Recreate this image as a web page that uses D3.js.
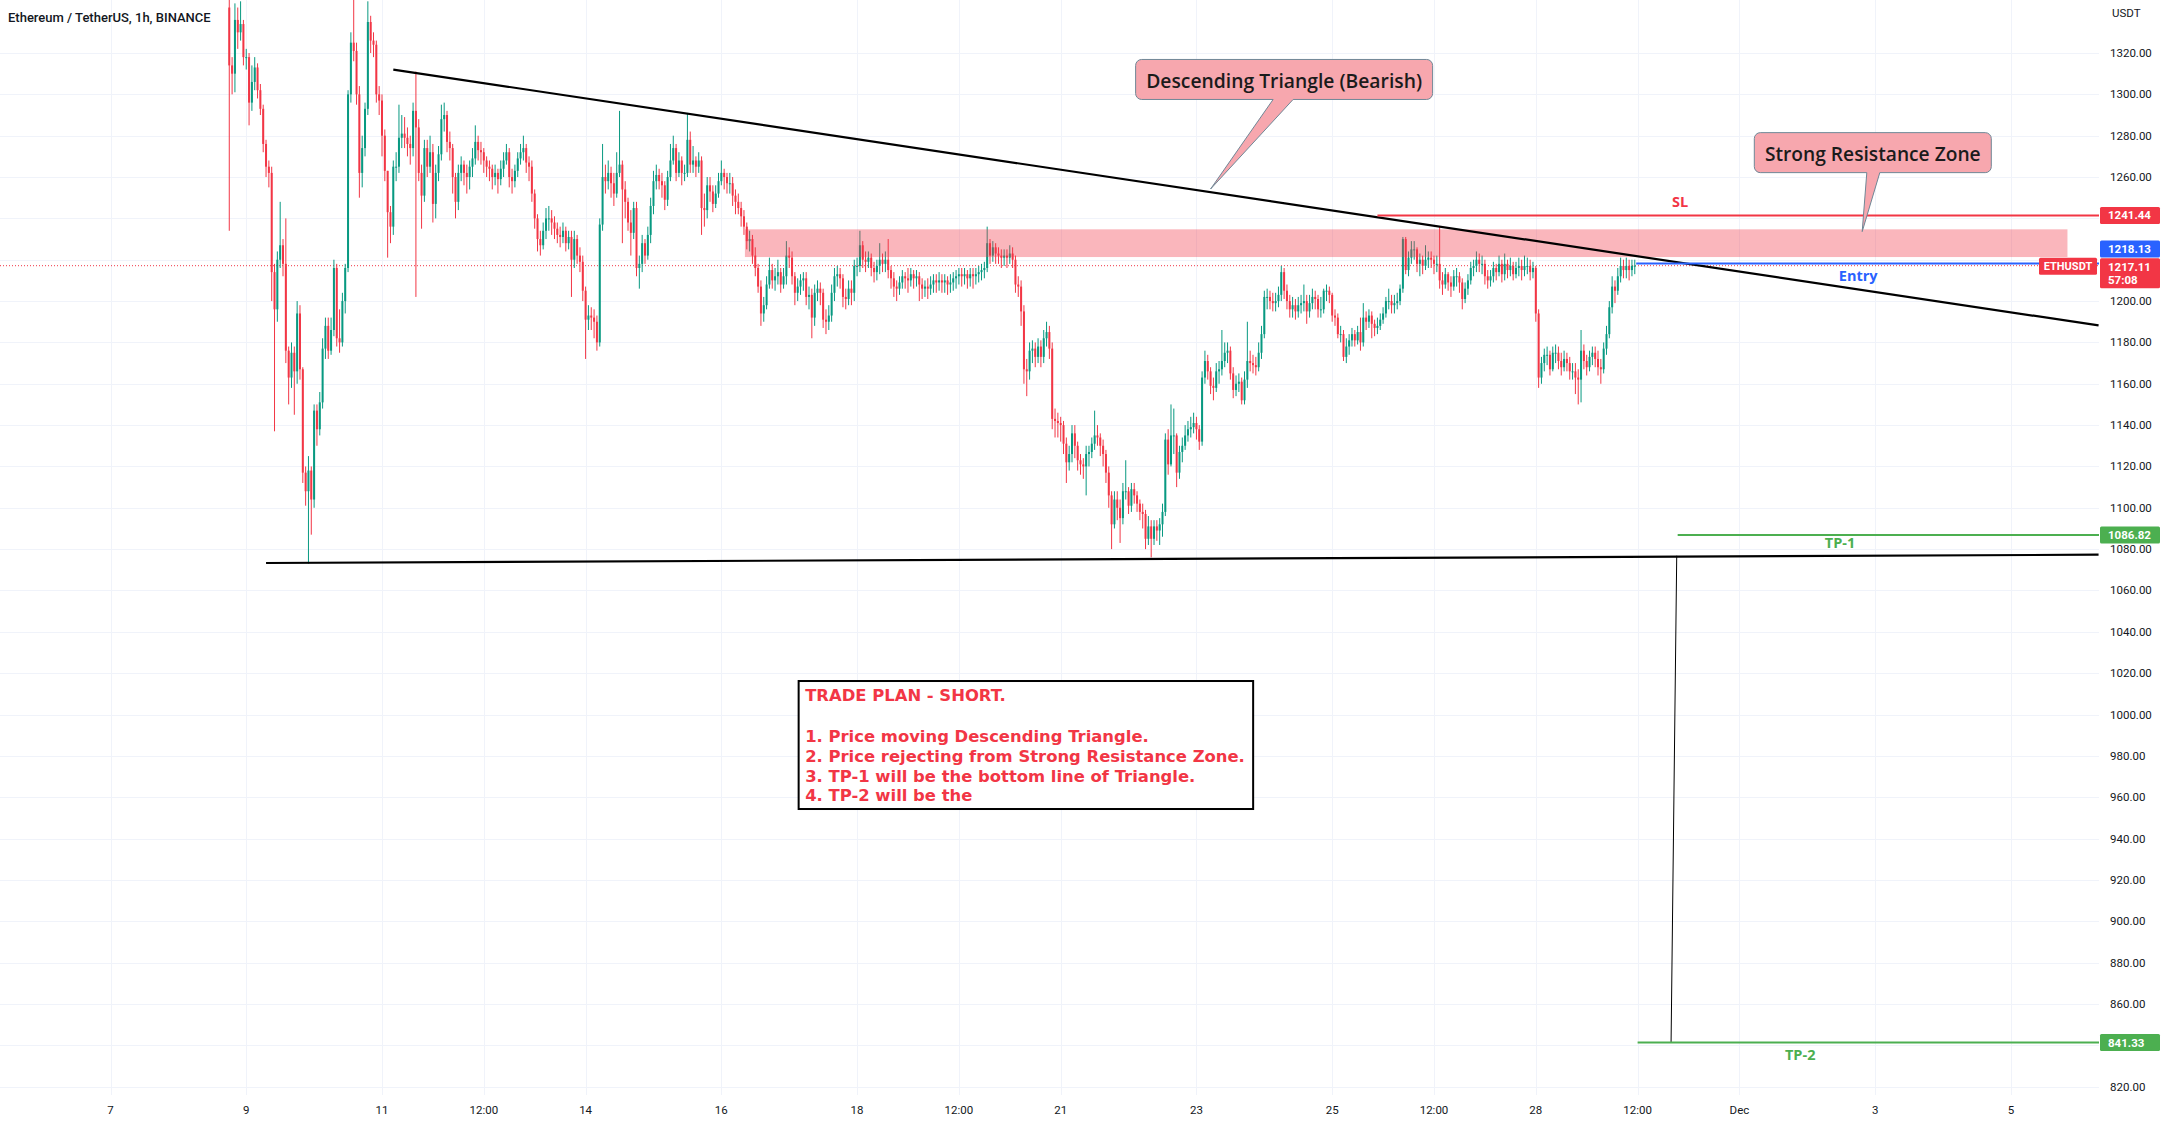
<!DOCTYPE html>
<html><head><meta charset="utf-8">
<script src="https://cdn.jsdelivr.net/npm/d3@7"></script>
<style>body{margin:0;background:#fff}svg{display:block}</style>
</head><body><svg id="c" width="2165" height="1125"></svg>
<script>
// ---------- DATA ----------
const title = "Ethereum / TetherUS, 1h, BINANCE";
const startTime = "2022-11-08 18:00"; // first hourly candle
const firstOpen = 1342;
const closes = [
1314,1310,1336,1330,1334,1318,1318,1296,1306,1313,
1302,1293,1276,1265,1262,1214,1196,1220,1227,1218,
1176,1163,1175,1166,1194,1167,1117,1108,1118,1104,
1147,1138,1151,1177,1188,1176,1186,1216,1182,1180,
1200,1216,1300,1325,1321,1300,1262,1274,1293,1335,
1326,1324,1300,1297,1280,1263,1243,1236,1265,1265,
1279,1281,1279,1276,1274,1292,1284,1262,1251,1274,
1265,1272,1247,1262,1271,1288,1290,1277,1274,1260,
1248,1262,1266,1262,1260,1265,1269,1277,1273,1272,
1268,1265,1264,1260,1262,1259,1264,1268,1272,1260,
1258,1263,1269,1272,1274,1267,1265,1252,1240,1230,
1227,1234,1240,1240,1238,1235,1232,1231,1234,1228,
1231,1220,1230,1222,1219,1205,1191,1193,1192,1190,
1180,1237,1260,1258,1262,1257,1252,1262,1266,1254,
1248,1238,1233,1245,1216,1218,1228,1222,1232,1246,
1258,1261,1258,1256,1249,1260,1268,1274,1262,1268,
1262,1262,1278,1266,1268,1265,1268,1245,1244,1256,
1253,1247,1252,1258,1262,1260,1257,1257,1251,1248,
1245,1241,1236,1229,1230,1222,1216,1207,1194,1198,
1208,1215,1210,1212,1214,1208,1212,1222,1221,1212,
1204,1207,1210,1211,1202,1203,1192,1204,1206,1204,
1191,1190,1193,1204,1212,1213,1211,1202,1201,1206,
1204,1217,1217,1227,1220,1219,1221,1216,1214,1217,
1220,1218,1220,1215,1211,1207,1206,1209,1212,1211,
1210,1213,1211,1212,1208,1206,1207,1206,1208,1210,
1209,1210,1209,1210,1208,1209,1211,1212,1213,1212,
1213,1211,1213,1212,1213,1214,1215,1216,1228,1222,
1226,1223,1222,1221,1222,1221,1223,1220,1208,1207,
1195,1167,1166,1176,1177,1173,1178,1173,1182,1185,
1177,1143,1142,1141,1140,1131,1122,1126,1136,1130,
1123,1121,1120,1126,1127,1131,1135,1134,1130,1126,
1117,1106,1092,1104,1100,1095,1108,1108,1101,1109,
1106,1102,1098,1097,1085,1091,1085,1091,1089,1092,
1098,1133,1121,1135,1135,1117,1127,1130,1135,1138,
1139,1141,1138,1132,1163,1171,1166,1159,1158,1166,
1167,1171,1175,1176,1165,1157,1160,1161,1152,1162,
1171,1170,1169,1168,1175,1184,1202,1202,1200,1199,
1200,1203,1214,1205,1200,1196,1198,1195,1198,1199,
1200,1195,1199,1202,1201,1196,1196,1205,1205,1203,
1193,1192,1184,1184,1173,1178,1181,1184,1181,1185,
1180,1192,1190,1193,1189,1187,1188,1191,1194,1200,
1200,1198,1199,1200,1206,1230,1215,1221,1225,1225,
1218,1220,1217,1220,1221,1220,1218,1218,1210,1208,
1213,1209,1207,1212,1212,1209,1201,1206,1210,1216,
1217,1220,1218,1218,1212,1210,1212,1216,1214,1218,
1213,1218,1215,1217,1213,1216,1217,1215,1217,1217,
1214,1216,1194,1163,1170,1174,1174,1167,1175,1175,
1171,1168,1172,1170,1166,1166,1163,1162,1176,1171,
1168,1173,1175,1172,1168,1167,1177,1184,1197,1207,
1205,1212,1217,1215,1217,1215,1217,1217.11];
const highs = [
1350,1318,1344,1342,1345,1336,1322,1320,1314,1318,
1315,1305,1295,1278,1268,1265,1218,1224,1248,1230,
1240,1178,1180,1178,1200,1198,1168,1120,1125,1120,
1150,1150,1156,1182,1192,1192,1192,1220,1218,1196,
1204,1218,1302,1330,1346,1325,1304,1280,1296,1345,
1338,1330,1326,1304,1300,1283,1262,1246,1268,1272,
1295,1290,1289,1284,1280,1296,1311,1288,1266,1278,
1278,1280,1276,1266,1275,1295,1296,1292,1282,1276,
1262,1266,1270,1268,1266,1268,1274,1285,1280,1277,
1274,1270,1268,1266,1266,1264,1268,1272,1276,1274,
1264,1266,1272,1276,1280,1276,1270,1268,1254,1242,
1234,1238,1245,1246,1244,1241,1238,1236,1238,1236,
1234,1234,1234,1232,1226,1222,1207,1198,1197,1196,
1193,1240,1276,1266,1268,1265,1262,1272,1292,1268,
1258,1250,1244,1248,1248,1222,1232,1230,1236,1250,
1263,1266,1264,1262,1258,1263,1276,1280,1276,1272,
1270,1266,1291,1282,1275,1270,1272,1270,1252,1260,
1260,1256,1256,1262,1268,1264,1262,1262,1260,1254,
1252,1248,1244,1238,1234,1232,1226,1218,1210,1202,
1212,1221,1218,1216,1220,1216,1216,1229,1226,1224,
1214,1211,1213,1214,1214,1207,1206,1208,1210,1209,
1206,1196,1198,1208,1216,1217,1216,1213,1206,1210,
1210,1220,1221,1234,1229,1224,1224,1223,1219,1220,
1228,1223,1224,1230,1217,1214,1210,1212,1215,1214,
1216,1216,1215,1215,1214,1211,1210,1211,1212,1213,
1213,1214,1213,1213,1212,1213,1214,1215,1216,1216,
1216,1215,1216,1216,1216,1217,1218,1219,1236,1230,
1229,1228,1226,1225,1225,1225,1227,1226,1222,1212,
1210,1198,1172,1180,1181,1180,1182,1181,1186,1190,
1188,1180,1148,1146,1144,1142,1134,1130,1140,1140,
1132,1126,1124,1130,1130,1134,1147,1140,1136,1133,
1128,1120,1108,1108,1108,1104,1112,1123,1110,1112,
1112,1108,1104,1102,1099,1096,1094,1094,1094,1095,
1102,1136,1138,1150,1148,1136,1130,1134,1140,1142,
1144,1146,1144,1140,1166,1176,1174,1168,1163,1170,
1171,1186,1180,1180,1178,1168,1164,1165,1163,1166,
1190,1176,1174,1173,1180,1188,1205,1206,1205,1204,
1204,1207,1217,1216,1208,1203,1202,1201,1202,1203,
1208,1203,1203,1206,1205,1203,1202,1206,1208,1207,
1204,1196,1194,1188,1186,1182,1184,1187,1186,1188,
1192,1199,1195,1196,1195,1191,1192,1194,1197,1202,
1206,1203,1203,1204,1208,1231,1231,1224,1229,1229,
1226,1223,1222,1227,1224,1224,1222,1222,1236,1214,
1216,1214,1212,1215,1216,1214,1211,1209,1213,1219,
1220,1224,1223,1222,1220,1215,1215,1219,1218,1222,
1220,1223,1220,1221,1219,1219,1221,1220,1222,1221,
1220,1219,1217,1196,1173,1177,1178,1176,1178,1179,
1178,1175,1176,1175,1173,1170,1170,1167,1186,1179,
1174,1176,1178,1178,1176,1172,1180,1188,1200,1212,
1210,1216,1221,1220,1221,1220,1220,1220];
const lows = [
1234,1300,1301,1322,1326,1314,1312,1285,1292,1302,
1298,1290,1272,1260,1255,1200,1137,1190,1216,1212,
1170,1150,1158,1145,1160,1162,1112,1101,1073,1087,
1100,1130,1135,1148,1172,1172,1174,1183,1178,1175,
1178,1194,1214,1296,1316,1295,1250,1255,1270,1290,
1320,1318,1296,1290,1270,1258,1221,1228,1232,1258,
1262,1274,1274,1270,1266,1270,1202,1258,1235,1248,
1260,1262,1238,1240,1258,1268,1282,1272,1268,1252,
1240,1244,1258,1256,1252,1254,1260,1266,1268,1266,
1262,1260,1258,1254,1256,1252,1256,1260,1266,1255,
1252,1255,1260,1266,1268,1262,1258,1248,1235,1224,
1222,1225,1230,1234,1232,1230,1228,1226,1228,1224,
1225,1202,1216,1218,1214,1200,1172,1186,1186,1182,
1176,1178,1234,1252,1254,1250,1246,1250,1260,1228,
1240,1234,1222,1230,1212,1206,1214,1218,1220,1228,
1242,1254,1254,1250,1244,1246,1258,1266,1258,1260,
1256,1258,1260,1262,1262,1260,1262,1232,1236,1240,
1248,1243,1245,1250,1256,1254,1252,1252,1246,1242,
1242,1236,1232,1225,1224,1218,1212,1204,1188,1190,
1196,1206,1206,1205,1208,1204,1206,1208,1216,1208,
1198,1200,1203,1205,1198,1196,1182,1188,1200,1198,
1187,1184,1186,1190,1200,1207,1206,1197,1196,1198,
1198,1200,1212,1214,1216,1214,1216,1212,1209,1210,
1213,1214,1214,1211,1206,1202,1200,1203,1206,1206,
1204,1207,1206,1207,1200,1201,1202,1201,1203,1204,
1204,1205,1204,1204,1203,1204,1205,1206,1208,1207,
1208,1206,1207,1206,1208,1209,1210,1211,1214,1218,
1219,1218,1218,1216,1217,1216,1218,1216,1204,1202,
1188,1160,1154,1162,1170,1168,1170,1168,1170,1178,
1172,1138,1134,1134,1132,1126,1112,1118,1122,1124,
1118,1116,1114,1106,1120,1124,1128,1130,1125,1120,
1112,1100,1080,1090,1094,1083,1092,1104,1097,1098,
1102,1098,1094,1090,1080,1082,1076,1082,1084,1082,
1086,1096,1116,1120,1126,1110,1114,1122,1128,1132,
1134,1136,1133,1128,1130,1160,1162,1155,1152,1156,
1160,1164,1168,1170,1162,1153,1154,1156,1150,1150,
1158,1166,1165,1164,1166,1172,1182,1196,1196,1195,
1195,1197,1200,1201,1196,1192,1192,1191,1192,1194,
1195,1189,1192,1196,1196,1192,1192,1194,1200,1199,
1190,1188,1182,1180,1171,1170,1174,1178,1178,1179,
1176,1178,1186,1187,1182,1183,1184,1186,1189,1192,
1196,1194,1194,1196,1198,1204,1213,1212,1218,1220,
1214,1212,1213,1215,1216,1216,1213,1214,1206,1203,
1206,1205,1202,1205,1207,1204,1196,1199,1203,1208,
1212,1214,1214,1213,1208,1206,1207,1209,1210,1212,
1209,1210,1211,1212,1210,1211,1212,1210,1212,1213,
1210,1211,1190,1158,1160,1166,1169,1164,1166,1170,
1167,1164,1166,1166,1162,1162,1155,1150,1151,1167,
1164,1166,1169,1168,1164,1160,1165,1174,1182,1194,
1199,1203,1209,1211,1211,1210,1212,1213];

const priceTicks = [1320,1300,1280,1260,1240,1220,1200,1180,1160,1140,1120,1100,1080,1060,1040,1020,1000,980,960,940,920,900,880,860,840,820];
const timeTicks = ["2022-11-07 00:00","2022-11-09 00:00","2022-11-11 00:00","2022-11-12 12:00","2022-11-14 00:00","2022-11-16 00:00","2022-11-18 00:00","2022-11-19 12:00","2022-11-21 00:00","2022-11-23 00:00","2022-11-25 00:00","2022-11-26 12:00","2022-11-28 00:00","2022-11-29 12:00","2022-12-01 00:00","2022-12-03 00:00","2022-12-05 00:00"];
const timeLabels = ["7","9","11","12:00","14","16","18","12:00","21","23","25","12:00","28","12:00","Dec","3","5"];

const triangleTop = [["2022-11-11 04:00",1312],["2022-12-06 07:00",1188.2]];
const triangleBottom = [["2022-11-09 07:00",1073.3],["2022-12-06 07:00",1077.3]];
const connector = [["2022-11-30 01:50",1076.8],["2022-11-29 23:50",841.33]];
const zoneTimes = ["2022-11-16 08:20","2022-12-05 20:00"];
const zonePrices = [1221.3,1234.7];
const levelNames = ["SL","Entry","TP-1","TP-2"];
const levelPrices = [1241.44,1218.13,1086.82,841.33];
const levelStarts = ["2022-11-25 16:00","2022-11-29 11:30","2022-11-30 02:10","2022-11-29 12:00"];
const levelLabelTimes = ["2022-11-30 03:00","2022-12-02 18:00","2022-12-02 11:35","2022-12-01 21:30"];
const levelLabelPrices = [1248.4,1212.6,1083,835.3];
const lastPrice = 1217.11;
const countdown = "57:08";
const symbol = "ETHUSDT";
const planLines = ["TRADE PLAN - SHORT.","","1. Price moving Descending Triangle.","2. Price rejecting from Strong Resistance Zone.","3. TP-1 will be the bottom line of Triangle.","4. TP-2 will be the"];
const planAnchor = ["2022-11-17 03:20",1016.2];
const calloutTexts = ["Descending Triangle (Bearish)","Strong Resistance Zone"];
const calloutCenters = [["2022-11-24 07:00",1307.2],["2022-12-02 23:10",1271.8]];
const calloutTips = [["2022-11-23 05:00",1254.2],["2022-12-02 19:25",1233.6]];

// ---------- SETUP ----------
const parse = d3.utcParse("%Y-%m-%d %H:%M");
const W = 2165, H = 1125, plotR = 2099, plotB = 1095;
const x = d3.scaleUtc().domain([parse("2022-11-07 00:00"), parse("2022-12-05 00:00")]).range([110.5, 2010.9]);
const y = d3.scaleLinear().domain([820, 1320]).range([1086.6, 53]);
const UP = "#089981", DN = "#f23645", GRID = "#f0f3fa", TXT = "#131722";
const FONT = "Roboto, 'Noto Sans', sans-serif";
const DFONT = "'Open Sans', 'Noto Sans', sans-serif";
const PFONT = "'DejaVu Sans', Verdana, sans-serif";

const svg = d3.select("#c");
svg.append("rect").attr("width", W).attr("height", H).attr("fill", "#fff");

const plot = svg.append("g");
plot.append("clipPath").attr("id", "clip").append("rect").attr("width", plotR).attr("height", plotB);
const g = plot.append("g").attr("clip-path", "url(#clip)");

// grid
g.selectAll(".hg").data(priceTicks).join("line")
  .attr("x1", 0).attr("x2", plotR).attr("y1", d => Math.round(y(d)) + 0.5).attr("y2", d => Math.round(y(d)) + 0.5)
  .attr("stroke", GRID).attr("stroke-width", 1);
g.selectAll(".vg").data(timeTicks).join("line")
  .attr("x1", d => Math.round(x(parse(d))) + 0.5).attr("x2", d => Math.round(x(parse(d))) + 0.5)
  .attr("y1", 0).attr("y2", plotB).attr("stroke", GRID).attr("stroke-width", 1);

// current price dotted line
g.append("line").attr("x1", 0).attr("x2", plotR).attr("y1", y(lastPrice)).attr("y2", y(lastPrice))
  .attr("stroke", DN).attr("stroke-width", 1).attr("stroke-dasharray", "1,2");

// candles
const t0 = parse(startTime).getTime();
const candles = closes.map((c, i) => {
  const o = i ? closes[i - 1] : firstOpen;
  return { t: new Date(t0 + i * 3600e3), o, c, h: Math.max(highs[i], o, c), l: Math.min(lows[i], o, c) };
});
const cg = g.append("g");
cg.selectAll("line").data(candles).join("line")
  .attr("x1", d => x(d.t)).attr("x2", d => x(d.t))
  .attr("y1", d => y(d.h)).attr("y2", d => y(d.l))
  .attr("stroke", d => d.c >= d.o ? UP : DN).attr("stroke-width", 1);
cg.selectAll("rect").data(candles).join("rect")
  .attr("x", d => x(d.t) - 1).attr("width", 2)
  .attr("y", d => y(Math.max(d.o, d.c)))
  .attr("height", d => Math.max(1, Math.abs(y(d.o) - y(d.c))))
  .attr("fill", d => d.c >= d.o ? UP : DN);

// resistance zone
g.append("rect")
  .attr("x", x(parse(zoneTimes[0]))).attr("width", x(parse(zoneTimes[1])) - x(parse(zoneTimes[0])))
  .attr("y", y(zonePrices[1])).attr("height", y(zonePrices[0]) - y(zonePrices[1]))
  .attr("fill", "rgba(242,54,69,0.36)");

// triangle lines
const line = d3.line().x(d => x(parse(d[0]))).y(d => y(d[1]));
g.append("path").attr("d", line(triangleTop)).attr("stroke", "#000").attr("stroke-width", 2.2).attr("fill", "none");
g.append("path").attr("d", line(triangleBottom)).attr("stroke", "#000").attr("stroke-width", 2.2).attr("fill", "none");
g.append("path").attr("d", line(connector)).attr("stroke", "#000").attr("stroke-width", 1).attr("fill", "none");

// level lines
const levelColors = ["#f23645", "#2962ff", "#4caf50", "#4caf50"];
levelPrices.forEach((p, i) => {
  g.append("line").attr("x1", x(parse(levelStarts[i]))).attr("x2", plotR)
    .attr("y1", y(p)).attr("y2", y(p)).attr("stroke", levelColors[i]).attr("stroke-width", 2);
  g.append("text").attr("x", x(parse(levelLabelTimes[i]))).attr("y", y(levelLabelPrices[i]))
    .attr("text-anchor", "middle").attr("dominant-baseline", "central")
    .attr("font-family", DFONT).attr("font-weight", 700).attr("font-size", 14.5)
    .attr("fill", levelColors[i]).text(levelNames[i]);
});

// callouts
function calloutPath(x0, y0, x1, y1, r, bx0, bx1, tx, ty) {
  return `M${x0 + r},${y0} H${x1 - r} A${r},${r} 0 0 1 ${x1},${y0 + r} V${y1 - r} A${r},${r} 0 0 1 ${x1 - r},${y1} H${bx1} L${tx},${ty} L${bx0},${y1} H${x0 + r} A${r},${r} 0 0 1 ${x0},${y1 - r} V${y0 + r} A${r},${r} 0 0 1 ${x0 + r},${y0} Z`;
}
const calloutW = [297, 237], calloutH = 40, calloutTextW = [276, 216];
const calloutBase = [[-11, 9], [-6, 7]];
calloutTexts.forEach((t, i) => {
  const cx = x(parse(calloutCenters[i][0])), cy = y(calloutCenters[i][1]);
  const tx = x(parse(calloutTips[i][0])), ty = y(calloutTips[i][1]);
  const x0 = cx - calloutW[i] / 2, x1 = cx + calloutW[i] / 2, y0 = cy - calloutH / 2, y1 = cy + calloutH / 2;
  g.append("path").attr("d", calloutPath(x0, y0, x1, y1, 6, cx + calloutBase[i][0], cx + calloutBase[i][1], tx, ty))
    .attr("fill", "#f7a7ae").attr("stroke", "#6f8796").attr("stroke-width", 1);
  const te = g.append("text").attr("x", cx).attr("y", cy + 1).attr("text-anchor", "middle").attr("dominant-baseline", "central")
    .attr("font-family", DFONT).attr("font-weight", 600).attr("font-size", 18).attr("fill", "#1b1b1b").text(t);
  const w = te.node().getComputedTextLength();
  te.attr("font-size", 18 * calloutTextW[i] / w);
});

// trade plan box
const px0 = x(parse(planAnchor[0])), py0 = y(planAnchor[1]);
g.append("rect").attr("x", px0).attr("y", py0).attr("width", 454.5).attr("height", 128)
  .attr("fill", "#fff").attr("stroke", "#000").attr("stroke-width", 2);
const planOffsets = [14, 34, 55, 75, 95, 114];
const pt = g.append("g").attr("font-family", PFONT).attr("font-weight", 700).attr("fill", "#f23645");
const ptexts = pt.selectAll("text").data(planLines).join("text")
  .attr("x", px0 + 6.5).attr("y", (d, i) => py0 + planOffsets[i]).attr("dominant-baseline", "central")
  .attr("font-size", 16).text(d => d);
const lw = ptexts.nodes()[3].getComputedTextLength();
ptexts.attr("font-size", Math.min(17.2, 16 * 440 / lw));

// ---------- AXES ----------
const tagPrices = [levelPrices[0], levelPrices[1], lastPrice, levelPrices[3]];
const shownTicks = priceTicks.filter(p => !tagPrices.some(tp => Math.abs(y(tp) - y(p)) < 12));
const ax = svg.append("g").attr("font-family", FONT).attr("font-size", 11.5).attr("fill", TXT);
ax.selectAll("text.p").data(shownTicks).join("text")
  .attr("x", 2110).attr("y", d => y(d)).attr("dominant-baseline", "central").text(d => d.toFixed(2));
ax.append("text").attr("x", 2112).attr("y", 13).attr("dominant-baseline", "central").text("USDT");
ax.selectAll("text.t").data(timeTicks).join("text")
  .attr("x", d => x(parse(d))).attr("y", 1110).attr("text-anchor", "middle").attr("dominant-baseline", "central")
  .text((d, i) => timeLabels[i]);

// price tags
function tag(yc, h, color, lines) {
  svg.append("rect").attr("x", 2100).attr("y", yc - h / 2).attr("width", 60).attr("height", h).attr("rx", 1.5).attr("fill", color);
  lines.forEach((t, k) => {
    svg.append("text").attr("x", 2108).attr("y", yc - h / 2 + 8.5 + k * 13).attr("dominant-baseline", "central")
      .attr("font-family", FONT).attr("font-size", 11.5).attr("font-weight", 700).attr("fill", "#fff").text(t);
  });
}
tag(y(levelPrices[0]), 17, "#f23645", [levelPrices[0].toFixed(2)]);
tag(y(levelPrices[1]) - 14.5, 17, "#2962ff", [levelPrices[1].toFixed(2)]);
tag(y(lastPrice) + 7.5, 30, "#f23645", [lastPrice.toFixed(2), countdown]);
tag(y(levelPrices[2]), 17, "#4caf50", [levelPrices[2].toFixed(2)]);
tag(y(levelPrices[3]), 17, "#4caf50", [levelPrices[3].toFixed(2)]);
svg.append("rect").attr("x", 2039).attr("y", y(lastPrice) - 8).attr("width", 58).attr("height", 17).attr("rx", 1.5).attr("fill", "#f23645");
svg.append("text").attr("x", 2068).attr("y", y(lastPrice) + 0.5).attr("text-anchor", "middle").attr("dominant-baseline", "central")
  .attr("font-family", FONT).attr("font-size", 11).attr("font-weight", 700).attr("fill", "#fff").text(symbol);

// title
svg.append("text").attr("x", 8).attr("y", 17).attr("dominant-baseline", "central")
  .attr("font-family", FONT).attr("font-size", 13).attr("font-weight", 500).attr("fill", TXT).text(title);
</script></body></html>
